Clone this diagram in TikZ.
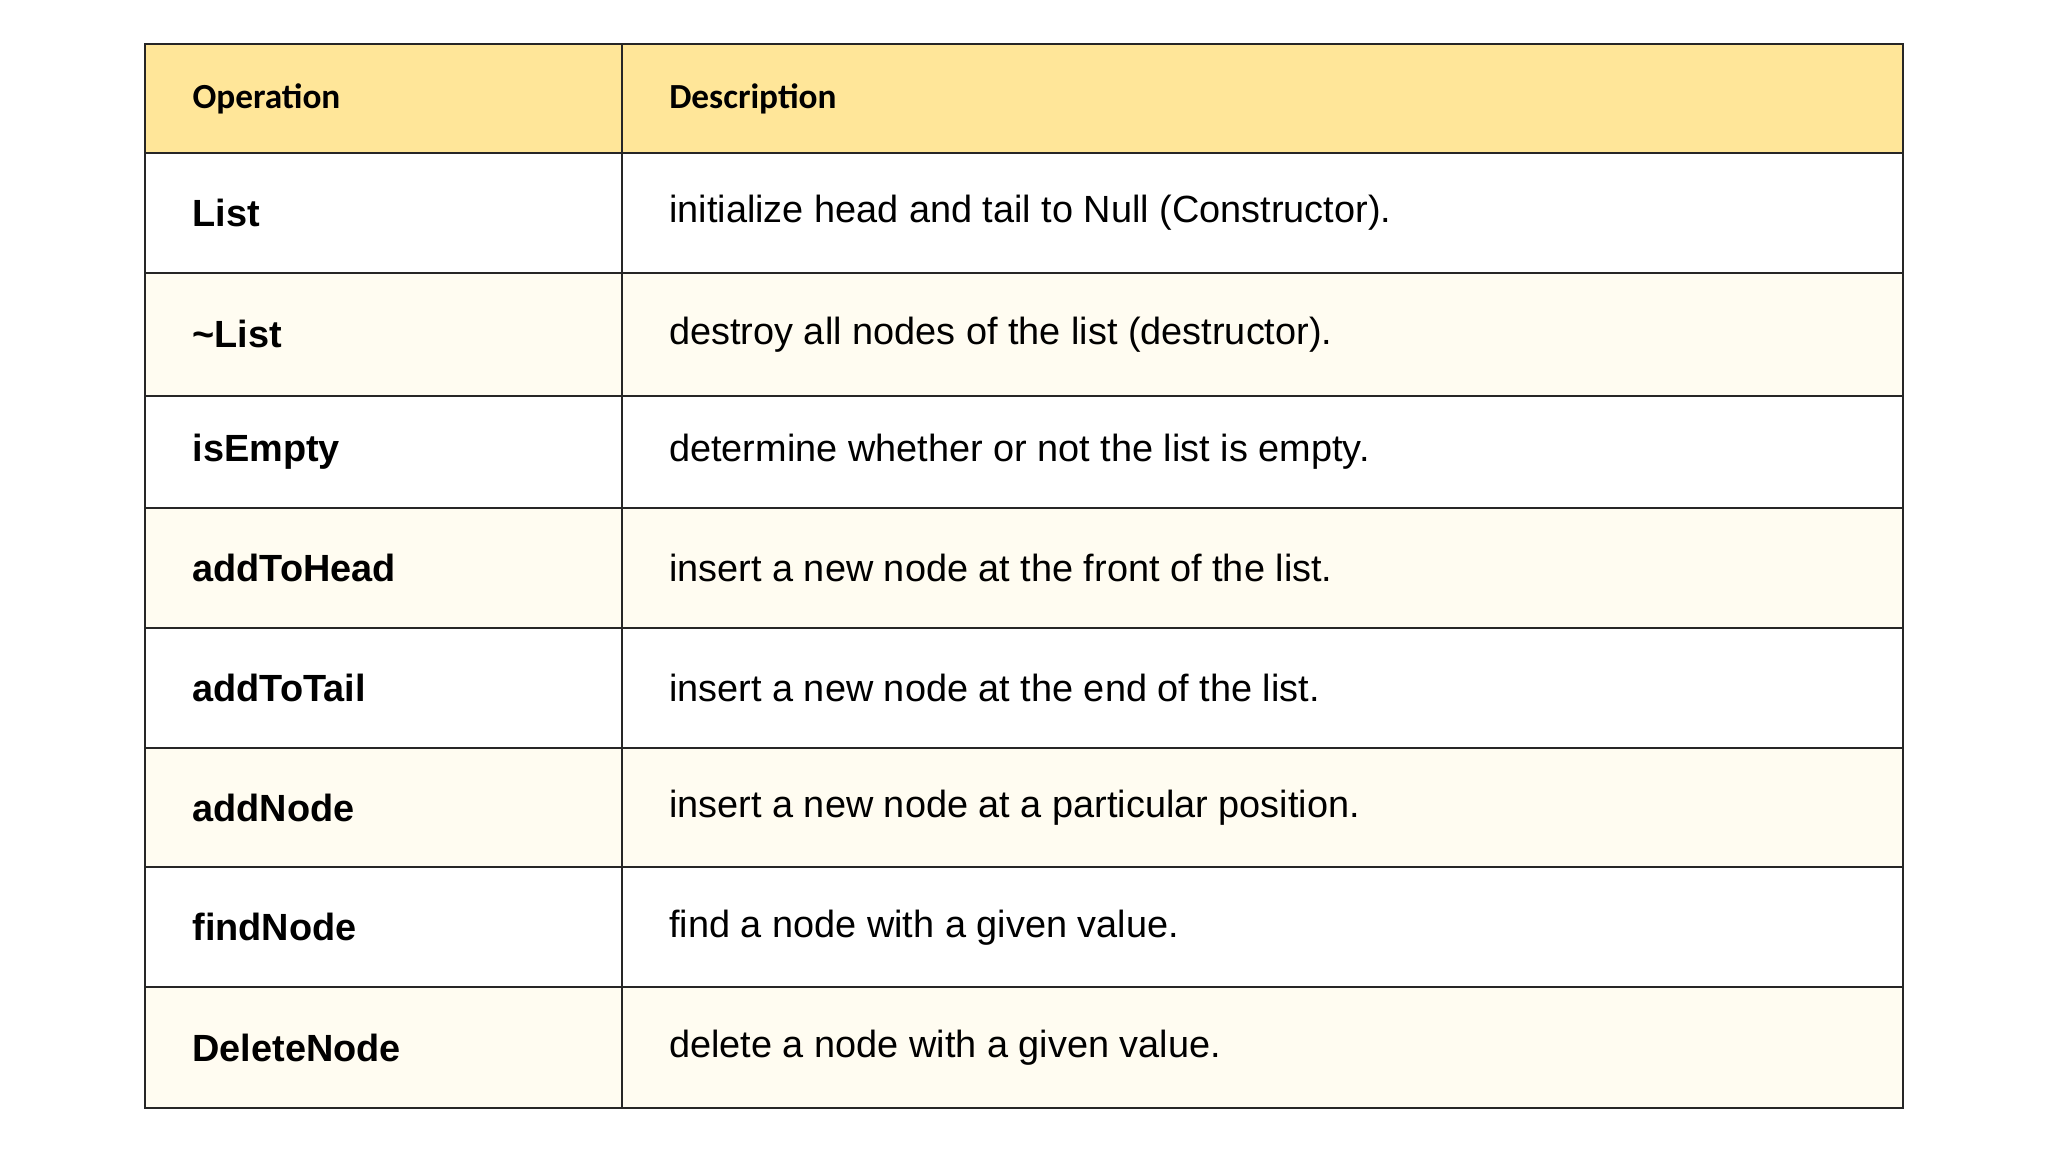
\documentclass[tikz,border=0pt]{standalone}
\usepackage{fontspec}
\setmainfont{Liberation Sans}
\newfontfamily\headfont{Carlito}
\definecolor{headyellow}{HTML}{FFE699}
\definecolor{cream}{HTML}{FFFCF1}
\begin{document}
\begin{tikzpicture}[x=0.5pt,y=-0.5pt]
        % styles
        \tikzstyle{head}=[anchor=west, inner sep=0pt, font=\headfont\bfseries\fontsize{13.5}{16}\selectfont]
        \tikzstyle{op}=[anchor=west, inner sep=0pt, font=\bfseries\fontsize{14.5}{17}\selectfont]
        \tikzstyle{desc}=[anchor=west, inner sep=0pt, font=\fontsize{14.5}{17}\selectfont]
        \tikzstyle{grid}=[line width=0.8pt, black!85]

        \useasboundingbox (0,0) rectangle (1568,882);

        % header
        \fill[headyellow] (111,34) rectangle (1457,117);
        \node[head] (opHead) at (147,76) {Operation};
        \node[head] (descHead) at (512,76) {Description};

        % rows
        \foreach \i/\top/\bot/\opname/\text in {
            1/117/209/List/{initialize head and tail to Null (Constructor).},
            2/209/303/\textasciitilde List/{destroy all nodes of the list (destructor).},
            3/303/389/isEmpty/{determine whether or not the list is empty.},
            4/389/481/addToHead/{insert a new node at the front of the list.},
            5/481/573/addToTail/{insert a new node at the end of the list.},
            6/573/664/addNode/{insert a new node at a particular position.},
            7/664/756/findNode/{find a node with a given value.},
            8/756/848/DeleteNode/{delete a node with a given value.}} {
            \ifodd\i\else\fill[cream] (111,\top) rectangle (1457,\bot);\fi
            \node[op] (op\i) at (147,{(\top+\bot)/2}) {\opname};
            \node[desc] (desc\i) at (512,{(\top+\bot)/2}) {\text};
            \draw[grid] (111,\top) -- (1457,\top);
        }

        % frame
        \draw[grid] (111,34) rectangle (1457,848);
        \draw[grid] (476,34) -- (476,848);
    \end{tikzpicture}
\end{document}
